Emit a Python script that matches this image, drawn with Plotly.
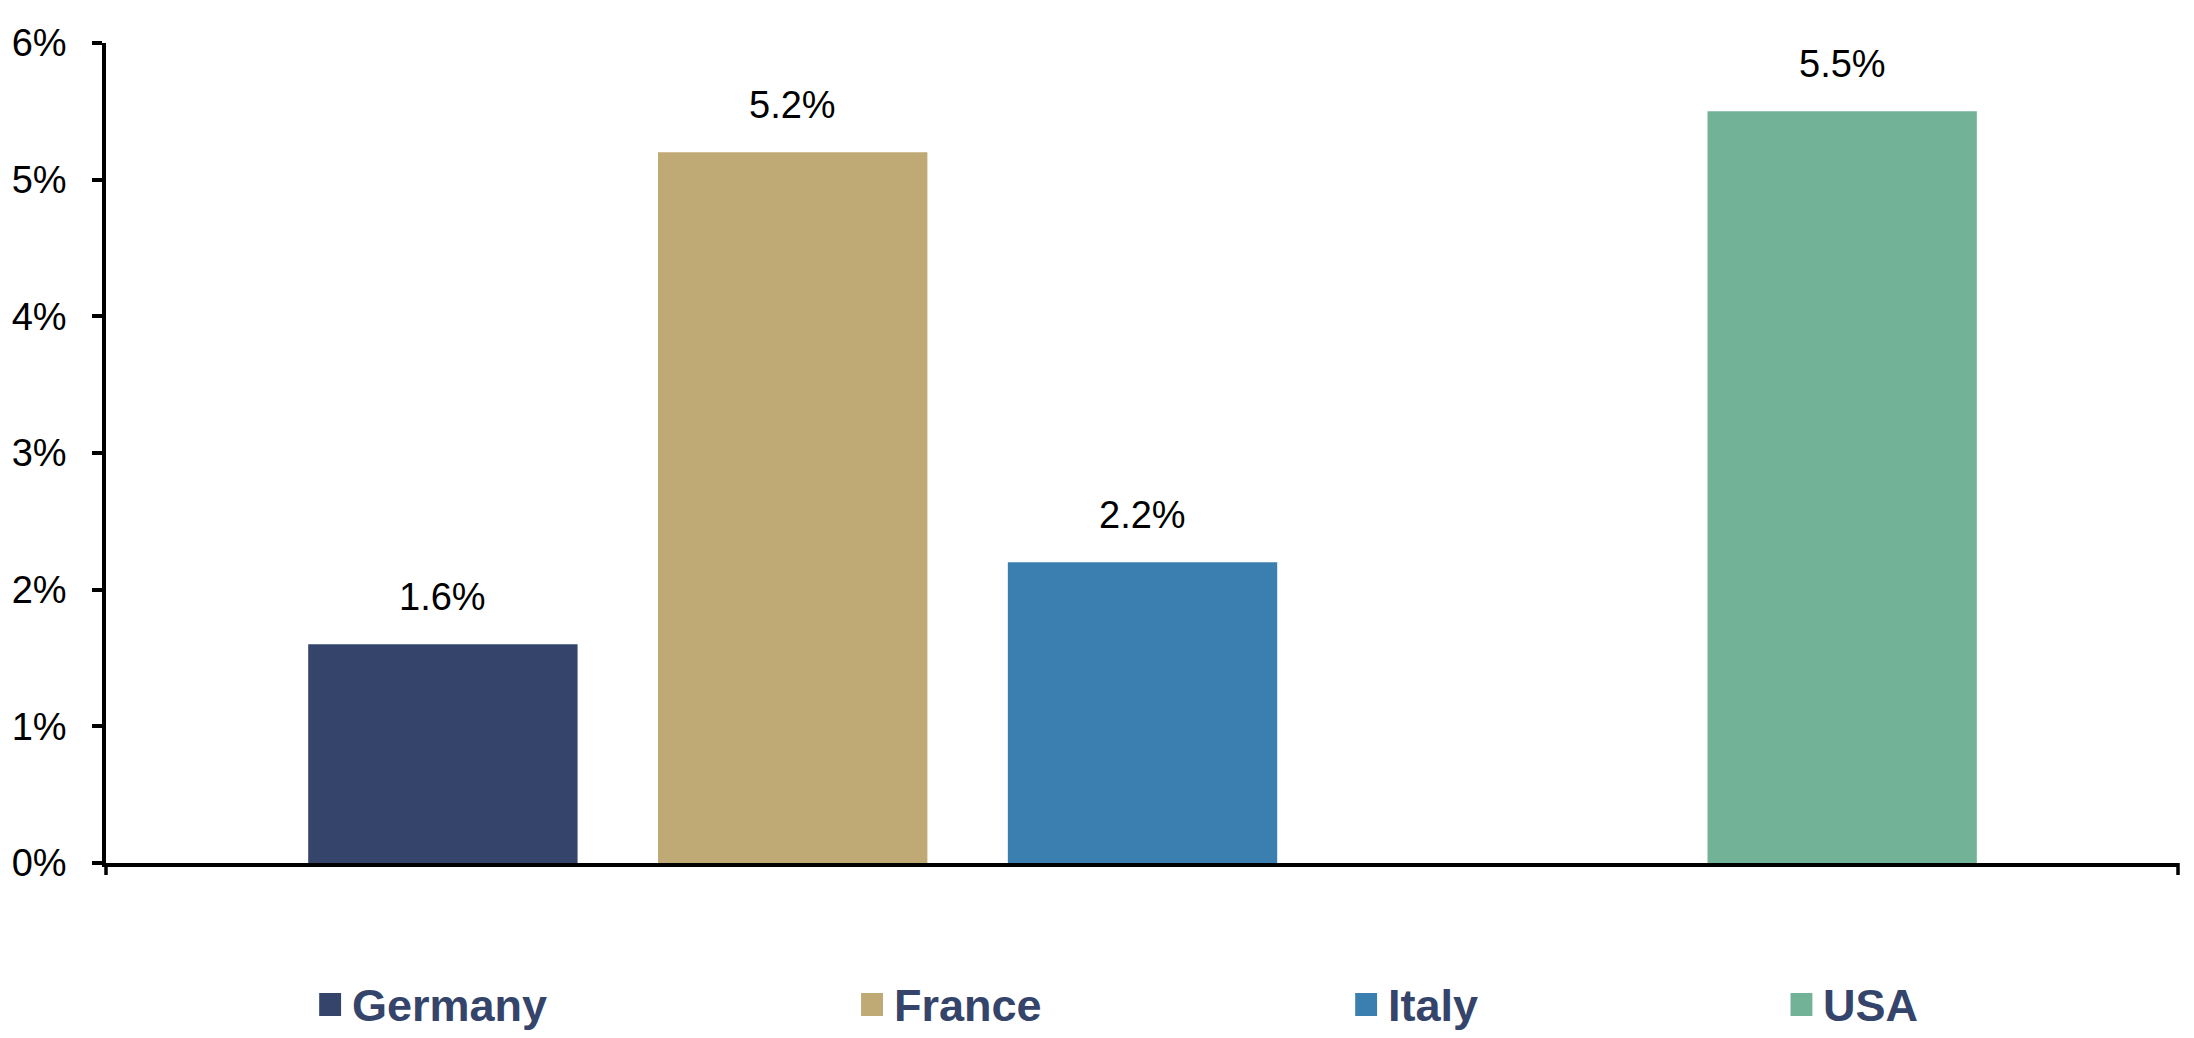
import plotly.graph_objects as go

# ---- data ----
countries = ["Germany", "France", "Italy", "USA"]
values = [1.6, 5.2, 2.2, 5.5]
colors = ["#34446A", "#BFA975", "#3A7FB0", "#72B398"]
slot_order = ["Germany", "France", "Italy", " ", "USA"]  # blank slot between Italy and USA
y_ticks = [0, 1, 2, 3, 4, 5, 6]
y_labels = [f"{t}%" for t in y_ticks]

# ---- layout geometry (pixels) ----
W, H = 2194, 1038
L, R, T, B = 98, 16, 43, 175
PW, PH = W - L - R, H - T - B


def px_x(p):
    return (p - L) / PW


def px_y(p):
    return (H - B - p) / PH


FONT = "Liberation Sans, Arial, sans-serif"

fig = go.Figure()
for name, val, col in zip(countries, values, colors):
    fig.add_trace(go.Bar(
        x=[name], y=[val], name=name, width=0.77,
        marker=dict(color=col, line=dict(width=0)),
        showlegend=False, hoverinfo="skip",
    ))

annotations = []
for name, val in zip(countries, values):
    annotations.append(dict(
        x=name, y=val, xref="x", yref="y", text=f"{val:.1f}%",
        showarrow=False, yanchor="bottom", yshift=24,
        font=dict(family=FONT, size=38, color="black"),
    ))

# manual legend (square + bold label)
legend_sq_left = [312, 856, 1352, 1789]
shapes = []
for name, col, lx in zip(countries, colors, legend_sq_left):
    shapes.append(dict(
        type="rect", xref="paper", yref="paper",
        x0=px_x(lx), x1=px_x(lx + 22), y0=px_y(1016), y1=px_y(993),
        fillcolor=col, line=dict(width=0),
    ))
    annotations.append(dict(
        x=px_x(lx + 31), y=px_y(1005), xref="paper", yref="paper",
        text=f"<b>{name}</b>", showarrow=False, xanchor="left", yanchor="middle",
        font=dict(family=FONT, size=45, color="#34446A"),
    ))

# end ticks on the x axis
for xe in (0, 1):
    shapes.append(dict(
        type="line", xref="paper", yref="paper",
        x0=xe, x1=xe, y0=0, y1=-12 / PH,
        line=dict(color="black", width=3.5),
    ))

fig.update_layout(
    width=W, height=H,
    margin=dict(l=L, r=R, t=T, b=B, pad=0),
    paper_bgcolor="white", plot_bgcolor="white",
    barmode="overlay",
    showlegend=False,
    annotations=annotations,
    shapes=shapes,
    xaxis=dict(
        type="category", categoryorder="array", categoryarray=slot_order,
        range=[-0.963, 4.96], showticklabels=False, ticks="",
        showline=True, linecolor="black", linewidth=3.5,
        showgrid=False, zeroline=False, fixedrange=True,
    ),
    yaxis=dict(
        range=[0, 6], tickvals=y_ticks, ticktext=y_labels,
        ticks="outside", ticklen=10, tickwidth=3.5, tickcolor="black",
        showline=True, linecolor="black", linewidth=3.5,
        showgrid=False, zeroline=False,
        tickfont=dict(family=FONT, size=38, color="black"),
        ticklabelstandoff=18, fixedrange=True,
    ),
)

fig.write_html("out.html")
